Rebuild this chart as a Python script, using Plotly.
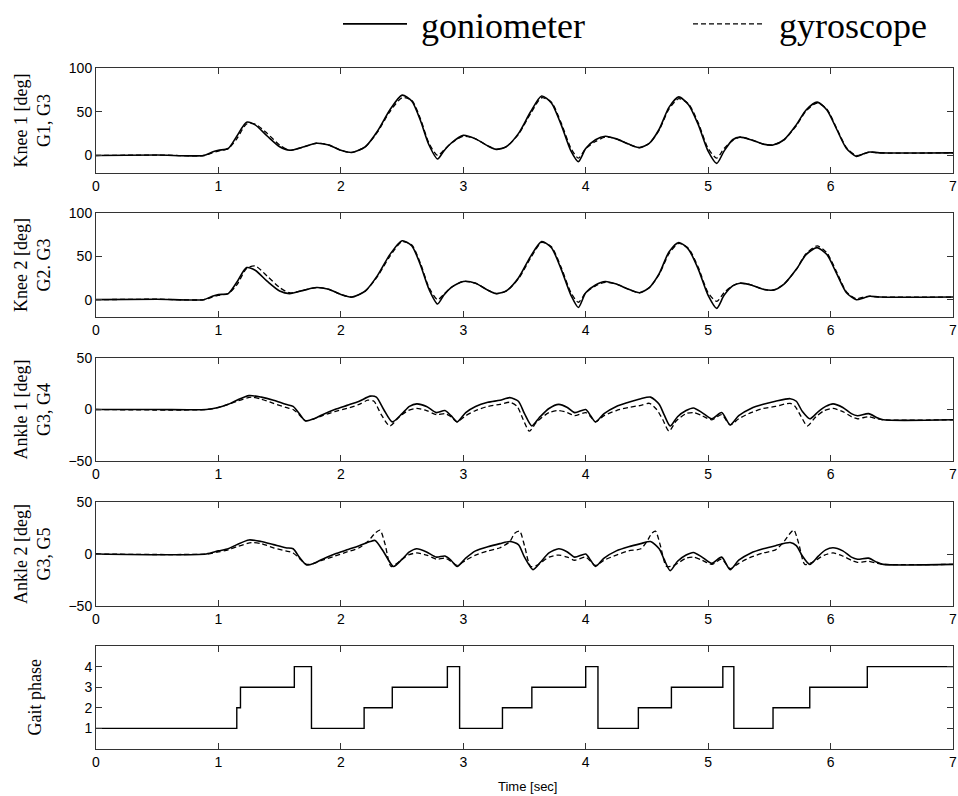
import plotly.graph_objects as go

# ---------------- data ----------------
knee1_t = [0, 0.5, 0.88, 0.95, 1.0, 1.08, 1.15, 1.23, 1.3, 1.4, 1.5, 1.58, 1.7, 1.8, 1.9, 2.0, 2.09, 2.2, 2.3, 2.4,
           2.5, 2.58, 2.65, 2.72, 2.79, 2.84, 2.9, 3.0, 3.1, 3.2, 3.27, 3.35, 3.45, 3.55, 3.64, 3.72, 3.8, 3.88, 3.94,
           4.0, 4.08, 4.16, 4.25, 4.35, 4.44, 4.52, 4.6, 4.68, 4.76, 4.84, 4.92, 5.0, 5.07, 5.13, 5.2, 5.26, 5.35,
           5.45, 5.53, 5.62, 5.72, 5.8, 5.89, 5.97, 6.05, 6.13, 6.21, 6.27, 6.32, 6.4, 7.0]
knee1_gonio = [0, 0.5, 0, 4, 6, 8, 22, 38, 35, 22, 10, 6, 10, 14, 12, 6, 3.5, 10, 28, 52,
               69, 62, 40, 12, -4, 5, 14, 23, 19, 11, 7, 10, 25, 50, 68, 60, 35, 5, -7,
               8, 18, 22, 19, 13, 9, 14, 30, 55, 67, 58, 35, 5, -9, 5, 18, 21, 18,
               13, 12, 18, 35, 52, 61, 52, 30, 8, -1, 2, 4, 3, 3]
knee1_gyro = [0, 0.5, 0, 3, 5, 8, 19, 36, 36, 25, 12, 6, 10, 14, 12, 6, 3.5, 10, 27, 50,
              66, 63, 42, 14, 0, 6, 14, 22, 19, 11, 7, 10, 24, 48, 66, 61, 37, 8, -3,
              8, 16, 21, 19, 13, 9, 14, 29, 53, 65, 59, 37, 8, -3, 8, 17, 21, 18,
              13, 12, 18, 34, 51, 60, 53, 31, 9, 0, 2, 4, 3, 3]

knee2_t = knee1_t
knee2_gonio = [0, 0.5, 0, 4, 6, 7, 20, 37, 34, 21, 10, 7, 11, 14, 12, 6, 3, 10, 28, 52,
               68, 62, 40, 12, -5, 5, 14, 21, 19, 11, 7, 10, 25, 50, 67, 60, 35, 5, -9,
               8, 17, 21, 18, 12, 8, 14, 30, 55, 66, 58, 35, 5, -10, 5, 16, 19, 17,
               12, 11, 18, 35, 52, 60, 52, 30, 8, 0, 2, 4, 3, 3]
knee2_gyro = [0, 0.5, 0, 3, 5, 7, 17, 36, 39, 27, 14, 8, 11, 14, 12, 6, 3, 10, 27, 50,
              67, 63, 42, 14, 0, 6, 14, 21, 19, 11, 7, 10, 24, 48, 66, 61, 37, 8, -3,
              8, 16, 20, 18, 12, 8, 14, 29, 53, 65, 59, 37, 8, -2, 8, 16, 19, 17,
              12, 11, 18, 35, 53, 62, 54, 32, 9, 1, 3, 4, 3, 3]

ankle1_gonio_t = [0, 0.5, 0.9, 1.0, 1.08, 1.15, 1.25, 1.35, 1.45, 1.55, 1.61, 1.66, 1.71, 1.78, 1.85, 1.95, 2.05,
                  2.15, 2.24, 2.29, 2.35, 2.42, 2.5, 2.56, 2.62, 2.7, 2.78, 2.85, 2.9, 2.95, 3.02, 3.1, 3.2, 3.3,
                  3.38, 3.45, 3.5, 3.56, 3.62, 3.7, 3.78, 3.85, 3.91, 4.0, 4.04, 4.08, 4.15, 4.25, 4.35, 4.45,
                  4.53, 4.6, 4.64, 4.69, 4.75, 4.82, 4.88, 4.95, 5.03, 5.11, 5.18, 5.25, 5.35, 5.45, 5.55, 5.67,
                  5.72, 5.77, 5.83, 5.9, 5.96, 6.02, 6.1, 6.17, 6.22, 6.31, 6.38, 6.43, 7.0]
ankle1_gonio = [0, 0, 0, 2, 5, 9, 13.5, 12, 9, 5, 3, -4, -11, -9, -5, 0, 4,
                8, 13, 12, 0, -12, -4, 3, 5.5, 3, -3, -1, -6, -12, -3, 3, 7, 9,
                11.5, 8, -4, -16, -8, 1, 5, 2, -3, 0, -6, -12, -4, 3, 7, 10.5,
                12, 5, -5, -16, -7, -1, 1.5, -3, -9, -3, -15, -6, 1, 5, 8, 10.5,
                8, -2, -9, -2, 3, 5.5, 2, -4, -6, -4, -8, -10, -10]
ankle1_gyro_t = [0, 0.9, 1.0, 1.08, 1.15, 1.27, 1.35, 1.45, 1.55, 1.61, 1.66, 1.71, 1.78, 1.85, 1.95, 2.05,
                 2.15, 2.22, 2.27, 2.33, 2.40, 2.47, 2.55, 2.62, 2.7, 2.78, 2.85, 2.9, 2.95, 3.02, 3.1, 3.2, 3.3,
                 3.38, 3.44, 3.49, 3.54, 3.6, 3.7, 3.78, 3.85, 3.91, 4.0, 4.04, 4.08, 4.15, 4.25, 4.35, 4.45,
                 4.52, 4.58, 4.63, 4.68, 4.74, 4.82, 4.88, 4.95, 5.03, 5.11, 5.18, 5.25, 5.35, 5.45, 5.55, 5.67,
                 5.71, 5.76, 5.81, 5.88, 5.95, 6.02, 6.1, 6.17, 6.22, 6.31, 6.38, 6.43, 7.0]
ankle1_gyro = [0, 0, 2, 5, 8, 12, 10, 6, 2, 0, -5, -11, -9, -6, -2, 1,
               5, 9, 8, -5, -16, -8, -1, 1, -1, -5, -4, -7, -12, -6, -1, 3, 5,
               7, 3, -10, -21, -12, -3, -1, -3, -6, -3, -7, -12, -6, -1, 2, 4,
               6, 0, -10, -21, -11, -4, -3, -6, -10, -5, -15, -9, -3, 1, 3, 6,
               3, -7, -16, -7, -1, 1, -2, -7, -9, -7, -9, -10, -10]

ankle2_gonio_t = [0, 0.9, 1.0, 1.08, 1.15, 1.25, 1.35, 1.45, 1.55, 1.61, 1.66, 1.72, 1.78, 1.85, 1.95, 2.05,
                  2.15, 2.24, 2.28, 2.35, 2.43, 2.5, 2.56, 2.62, 2.7, 2.78, 2.85, 2.9, 2.95, 3.02, 3.1, 3.2, 3.3,
                  3.38, 3.45, 3.5, 3.57, 3.63, 3.7, 3.78, 3.85, 3.91, 4.0, 4.04, 4.08, 4.15, 4.25, 4.35, 4.45,
                  4.53, 4.6, 4.64, 4.69, 4.75, 4.82, 4.88, 4.95, 5.03, 5.11, 5.18, 5.25, 5.35, 5.45, 5.55, 5.67,
                  5.72, 5.77, 5.83, 5.9, 5.96, 6.02, 6.1, 6.17, 6.22, 6.31, 6.38, 6.43, 7.0]
ankle2_gonio = [0, 0, 3, 5, 9, 13.5, 12, 9, 6, 5, -3, -10.5, -9, -5, 0, 4,
                8, 12, 13, 2, -12, -5, 2, 5, 2, -3, -2, -6, -12, -4, 3, 7, 10,
                12, 9, -3, -15, -8, 1, 5, 2, -3, 0, -6, -12, -4, 3, 7, 10,
                12, 5, -5, -16, -7, -1, 1.5, -3, -9, -3, -15, -6, 1, 5, 8, 11,
                8, -2, -10, -2, 4, 6, 3, -3, -5, -4, -8, -10, -10]
ankle2_gyro_t = [0, 0.9, 1.0, 1.08, 1.15, 1.27, 1.35, 1.45, 1.55, 1.61, 1.66, 1.72, 1.78, 1.85, 1.95, 2.05,
                 2.15, 2.22, 2.28, 2.32, 2.36, 2.41, 2.47, 2.55, 2.62, 2.7, 2.78, 2.85, 2.9, 2.95, 3.02, 3.1, 3.2,
                 3.3, 3.38, 3.42, 3.46, 3.5, 3.55, 3.6, 3.7, 3.78, 3.85, 3.91, 4.0, 4.04, 4.08, 4.15, 4.25, 4.35,
                 4.45, 4.5, 4.54, 4.57, 4.61, 4.66, 4.72, 4.82, 4.88, 4.95, 5.03, 5.11, 5.18, 5.25, 5.35, 5.45,
                 5.55, 5.62, 5.67, 5.7, 5.74, 5.79, 5.85, 5.95, 6.02, 6.1, 6.17, 6.22, 6.31, 6.38, 6.43, 7.0]
ankle2_gyro = [0, 0, 2, 4, 7, 11, 10, 6, 3, 1, -4, -10, -9, -6, -2, 2,
               6, 12, 20, 23, 10, -12, -8, -1, 1, -1, -5, -4, -7, -11, -6, -1, 3,
               6, 12, 20, 22, 8, -12, -11, -3, -1, -3, -6, -3, -7, -11, -6, -1, 3,
               5, 12, 20, 22, 8, -12, -11, -4, -3, -6, -10, -5, -14, -9, -3, 1,
               4, 12, 20, 23, 10, -10, -8, -1, 1, -2, -6, -8, -7, -9, -10, -10]

gait_t = [0, 1.15, 1.18, 1.62, 1.76, 2.19, 2.42, 2.87, 2.97, 3.32, 3.56, 4.0, 4.1, 4.43, 4.70, 5.12, 5.21,
          5.53, 5.83, 6.30, 7.0]
gait_phase = [1, 2, 3, 4, 1, 2, 3, 4, 1, 2, 3, 4, 1, 2, 3, 4, 1, 2, 3, 4, 4]

x_ticks = [0, 1, 2, 3, 4, 5, 6, 7]
panel_titles = ["Knee 1 [deg]<br>G1, G3", "Knee 2 [deg]<br>G2. G3", "Ankle 1 [deg]<br>G3, G4",
                "Ankle 2 [deg]<br>G3, G5", "Gait phase"]
legend_names = ["\u00a0goniometer", "\u00a0gyroscope"]

# ---------------- figure ----------------
W, H = 958, 796
fig = go.Figure()

# panel pixel boxes (top, bottom)
panels = [(68, 173), (213, 317), (358, 461), (502, 606), (646, 749)]
x_left, x_right = 96, 953

series = [
    (knee1_t, knee1_gonio, knee1_t, knee1_gyro),
    (knee2_t, knee2_gonio, knee2_t, knee2_gyro),
    (ankle1_gonio_t, ankle1_gonio, ankle1_gyro_t, ankle1_gyro),
    (ankle2_gonio_t, ankle2_gonio, ankle2_gyro_t, ankle2_gyro),
]
for i, (tg, g, ty, y) in enumerate(series):
    ax = "" if i == 0 else str(i + 1)
    fig.add_trace(go.Scatter(x=tg, y=g, mode="lines", name=legend_names[0], showlegend=(i == 0),
                             legend="legend",
                             line=dict(color="black", width=1.6, shape="spline", smoothing=0.7),
                             xaxis="x" + ax, yaxis="y" + ax))
    fig.add_trace(go.Scatter(x=ty, y=y, mode="lines", name=legend_names[1], showlegend=(i == 0),
                             legend="legend2",
                             line=dict(color="black", width=1.3, dash="5px,3px", shape="spline", smoothing=0.7),
                             xaxis="x" + ax, yaxis="y" + ax))

fig.add_trace(go.Scatter(x=gait_t, y=gait_phase, mode="lines", showlegend=False,
                         line=dict(color="black", width=1.4, shape="hv"), xaxis="x5", yaxis="y5"))

yranges = [[-20, 100], [-20, 100], [-50, 50], [-50, 50], [0, 5]]
ytickvals = [[0, 50, 100], [0, 50, 100], [-50, 0, 50], [-50, 0, 50], [1, 2, 3, 4]]

tickfont = dict(family="Liberation Sans", size=14, color="black")
axis_common = dict(showline=True, linecolor="#333", linewidth=1, mirror="ticks", ticks="inside",
                   ticklen=6, tickcolor="#333", showgrid=False, zeroline=False, tickfont=tickfont)

layout = {}
for i, (top, bot) in enumerate(panels):
    k = "" if i == 0 else str(i + 1)
    layout["xaxis" + k] = dict(axis_common, domain=[x_left / W, x_right / W], range=[0, 7],
                               tickvals=x_ticks, anchor="y" + k)
    layout["yaxis" + k] = dict(axis_common, domain=[1 - bot / H, 1 - top / H], range=yranges[i],
                               tickvals=ytickvals[i], anchor="x" + k)
fig.update_layout(**layout)

annotations = []
for i, (top, bot) in enumerate(panels):
    annotations.append(dict(text=panel_titles[i], x=(32 if i < 4 else 34) / W, y=1 - (top + bot) / 2 / H,
                            xref="paper", yref="paper", showarrow=False, textangle=-90,
                            xanchor="center", yanchor="middle",
                            font=dict(family="Liberation Serif", size=18, color="black")))
annotations.append(dict(text="Time [sec]", x=527 / W, y=1 - 786 / H, xref="paper", yref="paper",
                        showarrow=False, xanchor="center", yanchor="middle",
                        font=dict(family="Liberation Sans", size=13, color="black")))

legend_font = dict(family="Liberation Serif", size=36, color="black")
fig.update_layout(
    width=W, height=H, margin=dict(l=0, r=0, t=0, b=0, autoexpand=False),
    paper_bgcolor="white", plot_bgcolor="white",
    annotations=annotations,
    legend=dict(orientation="h", x=338 / W, y=1 + 6 / H, xanchor="left", yanchor="top",
                font=legend_font, itemwidth=64, bgcolor="rgba(0,0,0,0)", borderwidth=0),
    legend2=dict(orientation="h", x=688 / W, y=1 + 6 / H, xanchor="left", yanchor="top",
                 font=legend_font, itemwidth=72, bgcolor="rgba(0,0,0,0)", borderwidth=0),
)

fig.write_html("out.html")
